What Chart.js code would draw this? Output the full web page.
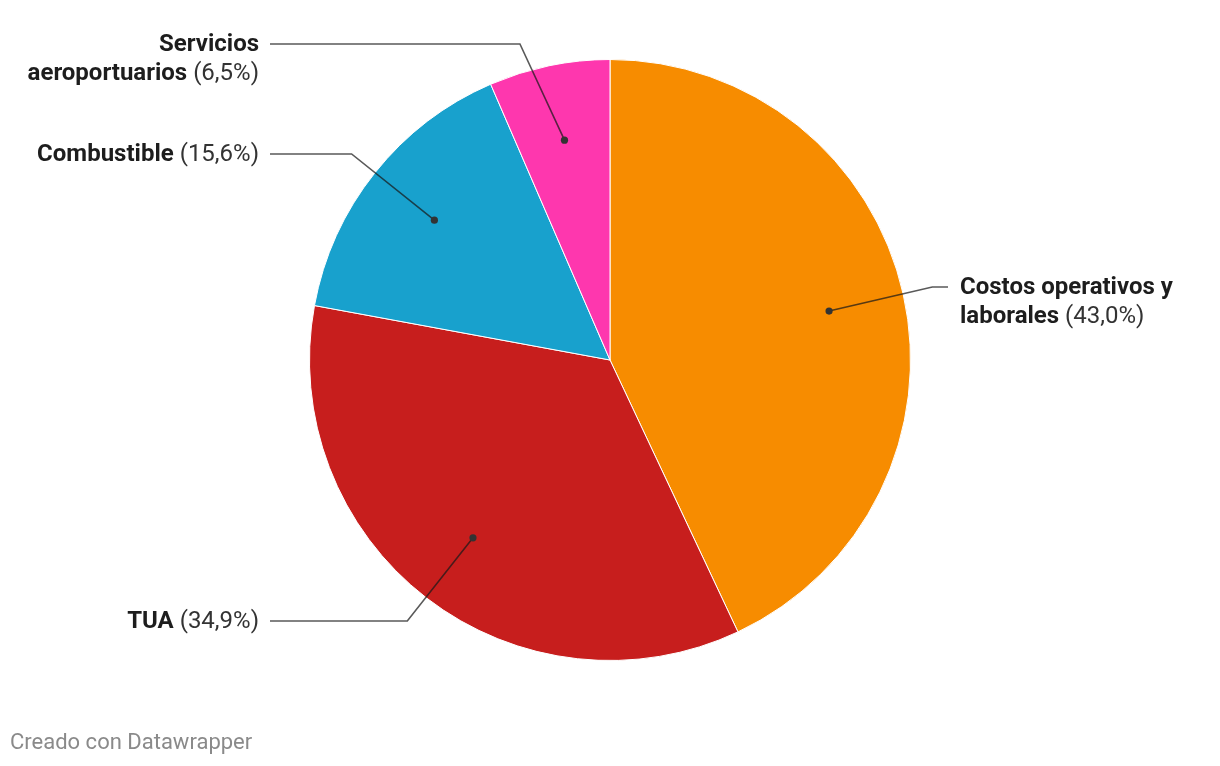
<!DOCTYPE html>
<html>
<head>
<meta charset="utf-8">
<script src="https://cdn.jsdelivr.net/npm/chart.js@4"></script>
<style>
  html, body { margin: 0; padding: 0; background: #fff; }
  #wrap { position: relative; width: 1220px; height: 766px; }
  #footer {
    position: absolute; left: 10px; top: 729px;
    font: 22px Roboto, sans-serif; color: #8a8a8a;
  }
</style>
</head>
<body>
<div id="wrap">
  <canvas id="costs-pie"></canvas>
  <div id="footer">Creado con Datawrapper</div>
</div>
<script>
const categories = ["Costos operativos y laborales", "TUA", "Combustible", "Servicios aeroportuarios"];
const shares = [43.0, 34.9, 15.6, 6.5];
const sliceColors = ["#f78c00", "#c71e1d", "#18a1cd", "#fe37ae"];
// how each label is broken into lines (last line gets the percentage)
const labelLines = [["Costos operativos y", "laborales"], ["TUA"], ["Combustible"], ["Servicios", "aeroportuarios"]];

// label layout: side and y of the leader line
const labelLayout = [
  { side: "right", y: 287 },
  { side: "left", y: 621 },
  { side: "left", y: 154 },
  { side: "left", y: 44 },
];
const LEFT_TEXT_X = 259;
const RIGHT_TEXT_X = 960;
const LEADER_LEN = 106;
const FONT = "Roboto, sans-serif";
const FONT_SIZE = 24;
const LINE_H = 29;

const fmtPct = (v) => `(${v.toFixed(1).replace(".", ",")}%)`;

const leaderLabels = {
  id: "leaderLabels",
  afterDatasetsDraw(chart) {
    const { ctx } = chart;
    const arcs = chart.getDatasetMeta(0).data;
    ctx.save();
    arcs.forEach((arc, i) => {
      const { x, y, startAngle, endAngle, outerRadius } = arc.getProps(["x", "y", "startAngle", "endAngle", "outerRadius"], true);
      const mid = (startAngle + endAngle) / 2;
      const r = outerRadius * 0.747;
      const dx = x + Math.cos(mid) * r;
      const dy = y + Math.sin(mid) * r;
      const lay = labelLayout[i];
      const sign = lay.side === "right" ? 1 : -1;
      const vy = lay.y - dy;
      const ex = dx + sign * Math.sqrt(Math.max(LEADER_LEN * LEADER_LEN - vy * vy, 0));
      const endX = lay.side === "right" ? RIGHT_TEXT_X - 12 : LEFT_TEXT_X + 11;

      ctx.strokeStyle = "rgba(25,25,25,0.72)";
      ctx.lineWidth = 1.6;
      ctx.beginPath();
      ctx.moveTo(dx, dy);
      ctx.lineTo(ex, lay.y);
      ctx.lineTo(endX, lay.y);
      ctx.stroke();

      ctx.fillStyle = "#333";
      ctx.beginPath();
      ctx.arc(dx, dy, 3.6, 0, Math.PI * 2);
      ctx.fill();

      // text
      const lines = labelLines[i];
      const pct = " " + fmtPct(shares[i]);
      ctx.textBaseline = "middle";
      lines.forEach((line, li) => {
        const ly = lay.y + 1 + li * LINE_H;
        const isLast = li === lines.length - 1;
        ctx.font = `bold ${FONT_SIZE}px ${FONT}`;
        const wBold = ctx.measureText(line).width;
        ctx.font = `${FONT_SIZE}px ${FONT}`;
        const wPct = isLast ? ctx.measureText(pct).width : 0;
        const startX = lay.side === "right" ? RIGHT_TEXT_X : LEFT_TEXT_X - wBold - wPct;
        ctx.textAlign = "left";
        ctx.font = `bold ${FONT_SIZE}px ${FONT}`;
        ctx.fillStyle = "#1d1d1d";
        ctx.fillText(line, startX, ly);
        if (isLast) {
          ctx.font = `${FONT_SIZE}px ${FONT}`;
          ctx.fillStyle = "#333";
          ctx.fillText(pct, startX + wBold, ly);
        }
      });
    });
    ctx.restore();
  },
};

new Chart(document.getElementById("costs-pie"), {
  type: "pie",
  data: {
    labels: categories,
    datasets: [{
      data: shares,
      backgroundColor: sliceColors,
      borderColor: "#ffffff",
      borderWidth: 1,
    }],
  },
  options: {
    responsive: true,
    maintainAspectRatio: false,
    animation: false,
    layout: { padding: { top: 59, bottom: 105, left: 309, right: 309 } },
    plugins: {
      legend: { display: false },
      tooltip: { enabled: false },
    },
  },
  plugins: [leaderLabels],
});
</script>
</body>
</html>
